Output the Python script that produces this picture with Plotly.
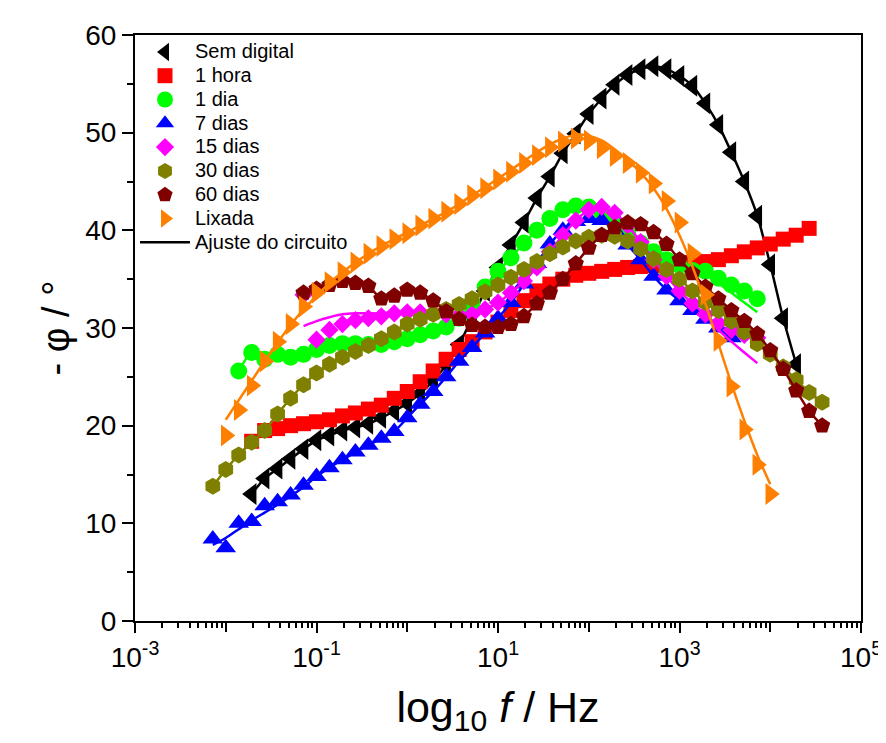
import plotly.graph_objects as go

# Frequencies (Hz), 7 points per decade, ascending
FREQ = [0.0072, 0.0100, 0.01389, 0.01931, 0.02683, 0.03728, 0.05179, 0.07197,
        0.1000, 0.1389, 0.1931, 0.2683, 0.3728, 0.5179, 0.7197,
        1.000, 1.389, 1.931, 2.683, 3.728, 5.179, 7.197,
        10.00, 13.89, 19.31, 26.83, 37.28, 51.79, 71.97,
        100.0, 138.9, 193.1, 268.3, 372.8, 517.9, 719.7,
        1000, 1389, 1931, 2683, 3728, 5179, 7197,
        10000, 13895, 19307, 26827, 37276]

N = None
sem_digital = [N]*3 + [13.0, 14.6, 15.6, 16.6, 17.6, 18.5, 19.0, 19.5, 19.8, 20.2, 20.8, 21.5,
               22.3, 23.3, 24.6, 26.2, 28.3, 31.0, 33.8, 36.2, 38.5, 40.8, 43.3, 45.5, 47.9,
               49.9, 51.9, 53.5, 54.9, 55.9, 56.5, 56.8, 56.5, 55.8, 54.8, 53.0, 50.8, 48.0,
               45.0, 41.5, 36.5, 31.0, 26.3] + [N]*2
um_hora = [N]*3 + [18.4, 19.5, 19.7, 20.0, 20.2, 20.4, 20.6, 21.0, 21.3, 21.7, 22.1, 22.8,
           23.5, 24.5, 25.6, 26.8, 27.8, 28.6, 29.6, 30.6, 31.8, 32.8, 33.8, 34.5, 35.0, 35.4,
           35.6, 35.8, 36.0, 36.2, 36.3, 36.4, 36.5, 36.6, 36.7, 36.8, 37.0, 37.4, 37.8, 38.2,
           38.6, 39.1, 39.5, 40.2] + [N]*1
um_dia = [N]*2 + [25.6, 27.5, 26.8, 27.3, 27.0, 27.3, 27.8, 28.2, 28.4, 28.4, 28.3, 28.3, 28.6,
          28.9, 29.3, 29.7, 30.1, 31.0, 32.6, 34.2, 35.8, 37.2, 38.7, 40.0, 41.2, 42.1, 42.5,
          42.4, 41.8, 40.8, 39.7, 38.7, 37.8, 37.0, 36.4, 35.9, 35.8, 35.1, 34.4, 33.8, 33.0] + [N]*5
sete_dias = [8.4, 7.5, 10.0, 10.2, 11.8, 12.2, 12.9, 13.9, 14.8, 15.7, 16.5, 17.3, 18.0, 18.7, 19.4,
             20.8, 22.2, 23.5, 25.0, 26.6, 28.0, 29.5, 31.0, 32.6, 34.5, 36.6, 38.6, 40.0, 40.9,
             41.2, 41.0, 40.0, 38.5, 37.0, 35.3, 33.9, 32.8, 31.8, 30.9, 30.0, 29.0] + [N]*7
quinze_dias = [N]*7 + [33.4, 28.8, 29.8, 30.4, 30.8, 31.0, 31.2, 31.5,
                       31.6, 31.6, 31.5, 31.4, 31.3, 31.4, 31.9, 32.6, 33.6, 34.8, 36.2, 37.8,
                       39.5, 41.0, 42.1, 42.4, 41.8, 40.5, 38.8, 37.0, 35.3, 33.8, 32.5, 31.4,
                       30.5, 29.8, 29.3, 29.0] + [N]*5
trinta_dias = [13.8, 15.5, 17.0, 18.3, 19.5, 21.2, 22.8, 24.2, 25.4, 26.3, 27.0, 27.6, 28.2, 28.9,
               29.6, 30.4, 30.9, 31.4, 31.9, 32.4, 33.0, 33.7, 34.4, 35.2, 36.0, 36.8, 37.6, 38.3,
               38.9, 39.3, 39.5, 39.4, 38.9, 38.1, 37.1, 36.0, 35.0, 33.8, 32.6, 31.8, 30.7, 29.6,
               28.4, 27.3, 26.0, 24.7, 23.4, 22.4]
sessenta_dias = [N]*7 + [33.6, 34.0, 34.4, 34.8, 34.6, 34.3, 33.0, 33.3,
                         33.9, 33.6, 32.8, 31.7, 30.9, 30.3, 30.1, 30.1, 30.4, 31.2, 32.5, 33.6,
                         35.0, 36.6, 38.2, 39.5, 40.3, 40.8, 40.6, 39.8, 38.6, 37.0, 35.6, 34.2,
                         33.0, 31.8, 30.7, 29.4, 27.7, 25.8, 23.6, 21.5, 20.0]
lixada = [N]*1 + [19.0, 21.6, 24.1, 26.6, 28.6, 30.4, 32.2, 33.6, 34.7, 35.7, 36.7, 37.6, 38.4, 39.1,
                  39.7, 40.5, 41.2, 41.9, 42.7, 43.6, 44.3, 45.2, 46.0, 46.9, 47.7, 48.5, 49.1,
                  49.4, 49.2, 48.4, 47.6, 46.9, 45.9, 44.8, 43.0, 40.8, 37.6, 33.4, 28.7, 24.0,
                  19.6, 16.0, 13.0] + [N]*4

# Circuit-fit curves (where they differ visibly from the data)
sete_dias_fit = [7.8, 8.5, 9.4, 10.3, 11.1, 11.9, 12.8, 13.7] + sete_dias[8:]
um_dia_fit = um_dia[:39] + [34.6, 33.6, 32.6, 31.6] + [N]*5
quinze_dias_fit = [N]*7 + [30.2, 30.7, 31.1, 31.4, 31.5, 31.5, 31.5, 31.6] + quinze_dias[15:39] + \
                  [29.8, 28.6, 27.5, 26.4] + [N]*5
lixada_fit = [N]*1 + [20.6, 22.6, 24.6, 26.6, 28.5, 30.3, 31.9, 33.3, 34.6, 35.7, 36.7, 37.6, 38.4,
                      39.1, 39.8, 40.5, 41.2, 41.9, 42.7, 43.6, 44.4, 45.3, 46.2, 47.1, 48.0, 48.8,
                      49.4, 49.8, 49.7, 49.2, 48.3, 47.2, 45.9, 44.3, 42.2, 39.5, 36.3, 32.5, 28.4,
                      24.3, 20.5, 17.0, 14.0] + [N]*4

NAMES = ["Sem digital", "1 hora", "1 dia", "7 dias", "15 dias", "30 dias", "60 dias", "Lixada"]
FIT_NAME = "Ajuste do circuito"
DATA = [sem_digital, um_hora, um_dia, sete_dias, quinze_dias, trinta_dias, sessenta_dias, lixada]
FITS = [sem_digital, um_hora, um_dia_fit, sete_dias_fit, quinze_dias_fit, trinta_dias,
        sessenta_dias, lixada_fit]
COLORS = ["#000000", "#FF0000", "#00FF00", "#0000FF", "#FF00FF", "#808000", "#800000", "#FF8000"]
SYMBOLS = ["triangle-left", "square", "circle", "triangle-up", "diamond", "hexagon",
           "pentagon", "triangle-right"]
SIZES = [19, 15, 17, 18, 14, 17, 17, 19]

XTICKVALS = [1e-3, 1e-1, 1e1, 1e3, 1e5]
XTICKTEXT = ["10<sup>-3</sup>", "10<sup>-1</sup>", "10<sup>1</sup>", "10<sup>3</sup>", "10<sup>5</sup>"]
XDECADES = [1e-3, 1e-2, 1e-1, 1e0, 1e1, 1e2, 1e3, 1e4, 1e5]

FONT = "Liberation Sans, Arial, sans-serif"

fig = go.Figure()
last = len(NAMES) - 1
for i, (name, y, yf) in enumerate(zip(NAMES, DATA, FITS)):
    # the last (topmost) series lives on the overlaid x2 axis, which carries the unlabeled decade ticks
    xa = "x2" if i == last else "x"
    fig.add_trace(go.Scatter(
        x=FREQ, y=y, mode="markers", name=f'<span style="font-size:20px">{name}</span>',
        legendrank=i + 1, xaxis=xa,
        marker=dict(symbol=SYMBOLS[i], size=SIZES[i], color=COLORS[i], line=dict(width=0)),
    ))
    fig.add_trace(go.Scatter(
        x=FREQ, y=yf, mode="lines", connectgaps=False, xaxis=xa,
        name=f'<span style="font-size:20px">{FIT_NAME}</span>',
        showlegend=(i == 0), legendrank=20,
        line=dict(color=COLORS[i], width=2.5, shape="spline", smoothing=0.6),
    ))

minor_x = [m * 10.0 ** e for e in range(-3, 5) for m in range(2, 10)]

# page body adds an 8px offset; margins compensate so the plot frame lands where intended
fig.update_layout(
    width=886, height=743,
    margin=dict(l=127, r=33, t=18, b=130),
    paper_bgcolor="white", plot_bgcolor="white",
    font=dict(family=FONT, color="black"),
    showlegend=True,
    legend=dict(x=0.0, y=1.0, xanchor="left", yanchor="top",
                bgcolor="rgba(0,0,0,0)", borderwidth=0,
                font=dict(family=FONT, size=16, color="black"),
                itemwidth=50, tracegroupgap=0),
    xaxis=dict(
        type="log", range=[-3, 5],
        tickmode="array", tickvals=XTICKVALS, ticktext=XTICKTEXT,
        ticks="outside", ticklen=10, tickwidth=2, tickcolor="black",
        showline=True, linewidth=2, linecolor="black", mirror=True,
        showgrid=False, zeroline=False,
        tickfont=dict(family=FONT, size=28),
        minor=dict(tickmode="array", tickvals=minor_x, ticks="outside",
                   ticklen=5, tickwidth=1.5, tickcolor="black", showgrid=False),
        title=dict(text="log<sub>10</sub> <i>f</i> / Hz",
                   font=dict(family=FONT, size=43), standoff=20),
    ),
    xaxis2=dict(
        type="log", range=[-3, 5], overlaying="x", anchor="y", side="bottom",
        tickmode="array", tickvals=XDECADES, showticklabels=False,
        ticks="outside", ticklen=10, tickwidth=2, tickcolor="black",
        showline=False, showgrid=False, zeroline=False,
    ),
    yaxis=dict(
        range=[0, 60], dtick=10, tick0=0,
        ticks="outside", ticklen=11, tickwidth=2, tickcolor="black",
        showline=True, linewidth=2, linecolor="black", mirror=True,
        showgrid=False, zeroline=False,
        tickfont=dict(family=FONT, size=28),
        minor=dict(dtick=5, ticks="outside", ticklen=6, tickwidth=1.5,
                   tickcolor="black", showgrid=False),
        title=dict(text="- φ / °", font=dict(family=FONT, size=38), standoff=4),
    ),
)

fig.write_html("out.html")
